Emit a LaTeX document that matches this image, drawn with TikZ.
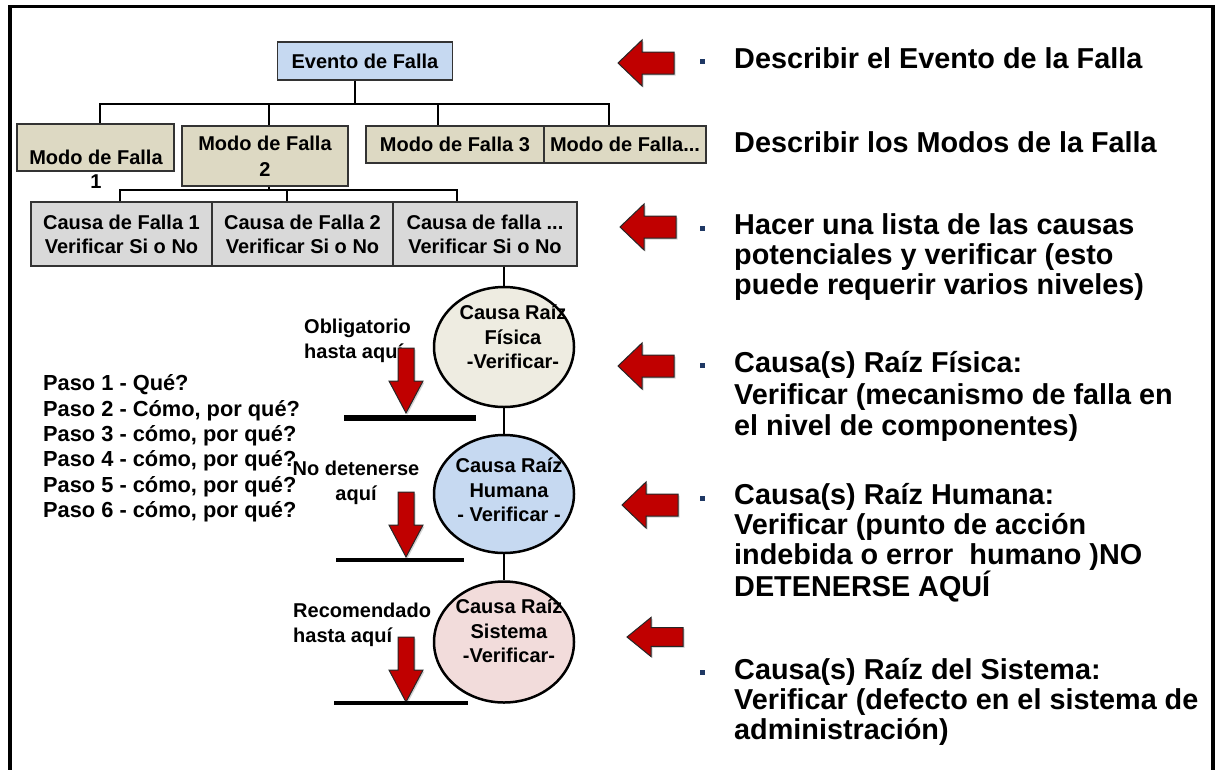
\documentclass[tikz,border=0pt]{standalone}
\usepackage{fontspec}
\setmainfont{Liberation Sans}
\usetikzlibrary{shapes.geometric,shadows}

\definecolor{eventoazul}{HTML}{C6D9F1}
\definecolor{modocafe}{HTML}{DDD9C3}
\definecolor{causagris}{HTML}{D9D9D9}
\definecolor{raizcrema}{HTML}{EEECE1}
\definecolor{raizrosa}{HTML}{F2DCDB}
\definecolor{flecharoja}{HTML}{C00000}
\definecolor{puntoazul}{HTML}{1F3864}

\tikzset{
  txt/.style={font=\fontsize{20}{24}\selectfont\bfseries},
  caja/.style={draw=black!80, line width=1.3pt, inner sep=0pt, txt, align=center},
  raiz/.style={ellipse, draw=black, line width=2.5pt, minimum width=140pt, inner sep=0pt},
  rama/.style={line width=1.3pt},
  desc/.style={font=\fontsize{28.8}{30}\selectfont\bfseries, align=left, anchor=west, inner sep=0pt},
  punto/.style={fill=puntoazul, minimum size=5pt, inner sep=0pt},
  flecha/.style={fill=flecharoja, draw=black!85, line width=1pt,
    drop shadow={shadow xshift=1.5pt, shadow yshift=-1.5pt, opacity=.35}},
  izq/.pic={\draw[flecha] (0,0) -- (24,-23) -- (24,-11) -- (56,-11) -- (56,11) -- (24,11) -- (24,23) -- cycle;},
  abajo/.pic={\draw[flecha] (0,0) -- (-17,-32) -- (-8,-32) -- (-8,-65) -- (8,-65) -- (8,-32) -- (17,-32) -- cycle;}
}

\begin{document}
\begin{tikzpicture}[x=1pt,y=-1pt]
\useasboundingbox (0,0) rectangle (1222,769);
\clip (0,0) rectangle (1222,769);
\draw[line width=3.5pt] (10,800) -- (10,6.5) -- (1213,6.5) -- (1213,800);

% arbol de falla
\node[caja, fill=eventoazul, minimum width=175pt, minimum height=38pt] (evento) at (365,61) {Evento de Falla};

\node[caja, fill=modocafe, minimum width=157pt, minimum height=47pt] (modo1) at (95.5,147.5) {};
\node[txt, align=center] (modo1txt) at (96,169.5) {Modo de Falla\\1};
\node[caja, fill=modocafe, minimum width=166pt, minimum height=60pt, font=\fontsize{20}{26}\selectfont\bfseries] (modo2) at (265,156) {Modo de Falla\\2};
\node[caja, fill=modocafe, minimum width=178pt, minimum height=37pt] (modo3) at (455,144.5) {Modo de Falla 3};
\node[caja, fill=modocafe, minimum width=162pt, minimum height=37pt] (modo4) at (625,144.5) {Modo de Falla...};

\node[caja, fill=causagris, minimum width=181pt, minimum height=64pt] (causa1) at (121.5,234) {Causa de Falla 1\\Verificar Si o No};
\node[caja, fill=causagris, minimum width=181pt, minimum height=64pt] (causa2) at (302.5,234) {Causa de Falla 2\\Verificar Si o No};
\node[caja, fill=causagris, minimum width=184pt, minimum height=64pt] (causa3) at (485,234) {Causa de falla ...\\Verificar Si o No};

\coordinate (bus1) at (355,104);
\coordinate (bus2) at (269,190);
\draw[rama] (bus1 |- evento.south) -- (bus1);
\draw[rama] ([xshift=4.5pt]modo1.north) |- (bus1) -| ([xshift=-16pt]modo4.north);
\draw[rama] ([xshift=4pt]modo2.north) |- (bus1);
\draw[rama] ([xshift=-17pt]modo3.north) |- (bus1);
\draw[rama] (bus2 |- modo2.south) -- (bus2);
\draw[rama] ([xshift=-1.5pt]causa1.north) |- (bus2) -| ([xshift=-28pt]causa3.north);
\draw[rama] ([xshift=-15.5pt]causa2.north) |- (bus2);

% causas raiz
\node[raiz, fill=raizcrema, minimum height=120pt] (fisica) at (504,347) {};
\node[raiz, fill=eventoazul, minimum height=118pt] (humana) at (504,494) {};
\node[raiz, fill=raizrosa, minimum height=121pt] (sistema) at (504,642) {};
\draw[rama] (fisica.north |- causa3.south) -- (fisica.north);
\draw[rama] (fisica) -- (humana);
\draw[rama] (humana) -- (sistema);
\node[txt, align=center, font=\fontsize{20}{24.5}\selectfont\bfseries] (fisicatxt) at ([xshift=9pt,yshift=10pt]fisica) {Causa Raíz\\Física\\-Verificar-};
\node[txt, align=center, font=\fontsize{20}{24.5}\selectfont\bfseries] (humanatxt) at ([xshift=5pt,yshift=4pt]humana) {Causa Raíz\\Humana\\- Verificar -};
\node[txt, align=center, font=\fontsize{20}{24.5}\selectfont\bfseries] (sistematxt) at ([xshift=5pt,yshift=11pt]sistema) {Causa Raíz\\Sistema\\-Verificar-};

% hasta donde llegar
\node[txt, align=left, anchor=west, inner sep=0pt, font=\fontsize{20}{25}\selectfont\bfseries] (oblig) at (304,340.5) {Obligatorio\\hasta aquí};
\node[txt, align=center, inner sep=0pt, font=\fontsize{20}{25}\selectfont\bfseries] (nodet) at (356,482.5) {No detenerse\\aquí};
\node[txt, align=left, anchor=west, inner sep=0pt, font=\fontsize{20}{25}\selectfont\bfseries] (recom) at (293,624.5) {Recomendado\\hasta aquí};
\pic at (406,413) {abajo};
\pic at (406,557) {abajo};
\pic at (406,702) {abajo};
\draw[line width=6pt] (344,418) -- (476,418);
\draw[line width=3.5pt] (336,560) -- (464,560);
\draw[line width=4.5pt] (334,703) -- (468,703);

\node[txt, align=left, anchor=west, inner sep=0pt, font=\fontsize{21.8}{25.4}\selectfont\bfseries] (pasos) at (43,448.5) {Paso 1 - Qué?\\Paso 2 - Cómo, por qué?\\Paso 3 - cómo, por qué?\\Paso 4 - cómo, por qué?\\Paso 5 - cómo, por qué?\\Paso 6 - cómo, por qué?};

% descripcion de cada nivel
\pic at (618,63) {izq};
\pic at (620,227) {izq};
\pic at (618,366) {izq};
\pic at (622,505) {izq};
\pic[yscale=0.85] at (627,637) {izq};

\node[punto] (p1) at (702,61) {};
\node[punto] (p3) at (702,228) {};
\node[punto] (p4) at (702,365) {};
\node[punto] (p5) at (702,498) {};
\node[punto] (p6) at (702,672) {};

\node[desc] (d1) at (734,58) {Describir el Evento de la Falla};
\node[desc] (d2) at (734,142) {Describir los Modos de la Falla};
\node[desc] (d3) at (734,257) {Hacer una lista de las causas\\potenciales y verificar (esto\\puede requerir varios niveles)};
\node[desc, font=\fontsize{28.8}{31.5}\selectfont\bfseries] (d4) at (734,396.5) {Causa(s) Raíz Física:\\Verificar (mecanismo de falla en\\el nivel de componentes)};
\node[desc] (d5) at (734,543) {Causa(s) Raíz Humana:\\Verificar (punto de acción\\indebida o error\ \ humano )NO\\DETENERSE AQUÍ};
\node[desc] (d6) at (734,702) {Causa(s) Raíz del Sistema:\\Verificar (defecto en el sistema de\\administración)};
\end{tikzpicture}
\end{document}
